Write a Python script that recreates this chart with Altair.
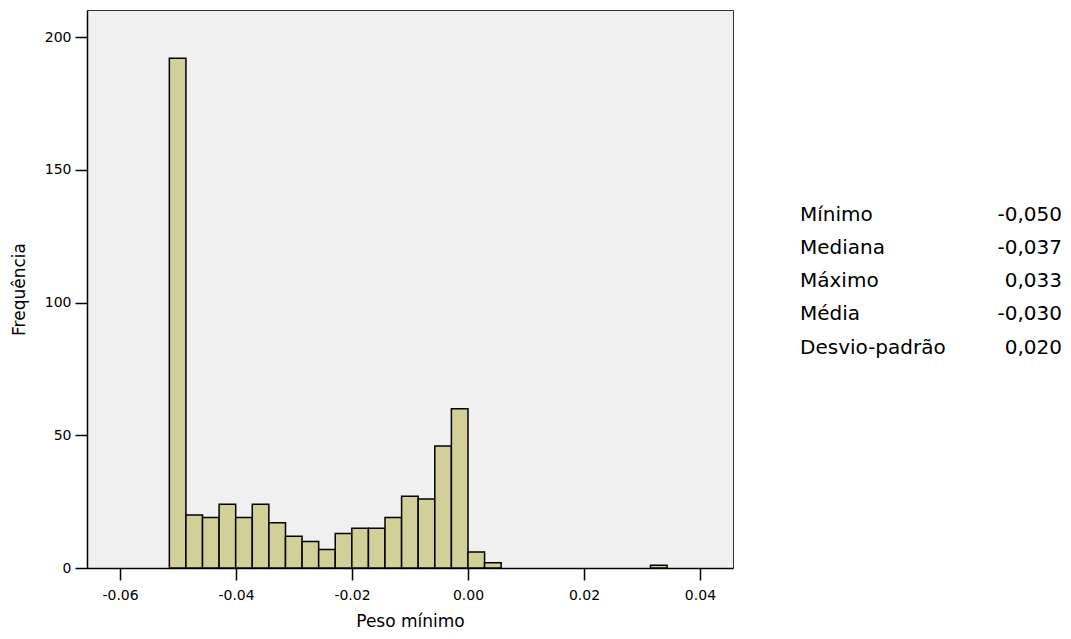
import altair as alt
import pandas as pd

# Histogram bins (left edges); common bin width
bin_start = [-0.05150, -0.04864, -0.04578, -0.04292, -0.04006, -0.03720, -0.03433,
             -0.03147, -0.02861, -0.02575, -0.02289, -0.02003, -0.01717, -0.01431,
             -0.01145, -0.00859, -0.00572, -0.00286, 0.00000, 0.00286, 0.03147]
bin_width = 0.002861
counts = [192, 20, 19, 24, 19, 24, 17, 12, 10, 7, 13, 15, 15, 19, 27, 26, 46, 60, 6, 2, 1]

stat_labels = ["Mínimo", "Mediana", "Máximo", "Média", "Desvio-padrão"]
stat_values = ["-0,050", "-0,037", "0,033", "-0,030", "0,020"]

x_ticks = [-0.06, -0.04, -0.02, 0.0, 0.02, 0.04]
y_ticks = [0, 50, 100, 150, 200]

hist = pd.DataFrame({"start": bin_start, "count": counts})
hist["end"] = hist["start"] + bin_width
hist["base"] = 0
stats = pd.DataFrame({"label": stat_labels, "value": stat_values,
                      "row": list(range(len(stat_labels)))})

FONT = "DejaVu Sans"

bars = alt.Chart(hist).mark_bar(
    fill="#d3cf98", stroke="#000000", strokeWidth=1.5, opacity=1
).encode(
    x=alt.X("start:Q",
            scale=alt.Scale(domain=[-0.0657, 0.0457], nice=False, zero=False),
            axis=alt.Axis(values=x_ticks, title="Peso mínimo",
                          labelExpr="datum.value < 0 ? '-' + format(-datum.value, '.2f') : format(datum.value, '.2f')",
                          grid=False, tickSize=12, tickWidth=1.5, tickColor="#000",
                          domainColor="#000", domainWidth=1.5,
                          labelFont=FONT, labelFontSize=14, labelColor="#000",
                          labelPadding=8,
                          titleFont=FONT, titleFontSize=17, titleFontWeight="normal",
                          titleColor="#000", titlePadding=11)),
    x2="end:Q",
    y=alt.Y("count:Q",
            scale=alt.Scale(domain=[0, 210.2], nice=False, padding=0),
            axis=alt.Axis(values=y_ticks, title="Frequência", grid=False,
                          tickSize=12, tickWidth=1.5, tickColor="#000",
                          domainColor="#000", domainWidth=1.5,
                          labelFont=FONT, labelFontSize=14, labelColor="#000",
                          labelPadding=4,
                          titleFont=FONT, titleFontSize=17, titleFontWeight="normal",
                          titleColor="#000", titlePadding=16)),
    y2="base:Q",
)

yrow = alt.Y("row:O", scale=alt.Scale(type="point", range=[210.7, 343.5], padding=0),
             axis=None)

labels = alt.Chart(stats).mark_text(
    align="left", baseline="alphabetic", font=FONT, fontSize=20, color="#000"
).encode(x=alt.value(713), y=yrow, text="label:N")

values = alt.Chart(stats).mark_text(
    align="right", baseline="alphabetic", font=FONT, fontSize=20, color="#000"
).encode(x=alt.value(975), y=yrow, text="value:N")

chart = alt.layer(bars, labels, values).resolve_scale(y="independent").properties(
    width=646, height=558,
    autosize=alt.AutoSizeParams(type="none"),
    padding={"left": 79, "top": 2, "right": 330, "bottom": 63},
    background="#ffffff",
).configure_view(fill="#f0f0f0", stroke="#333333", strokeWidth=1)

chart.save("out.html", embed_options={"renderer": "svg", "actions": False})
